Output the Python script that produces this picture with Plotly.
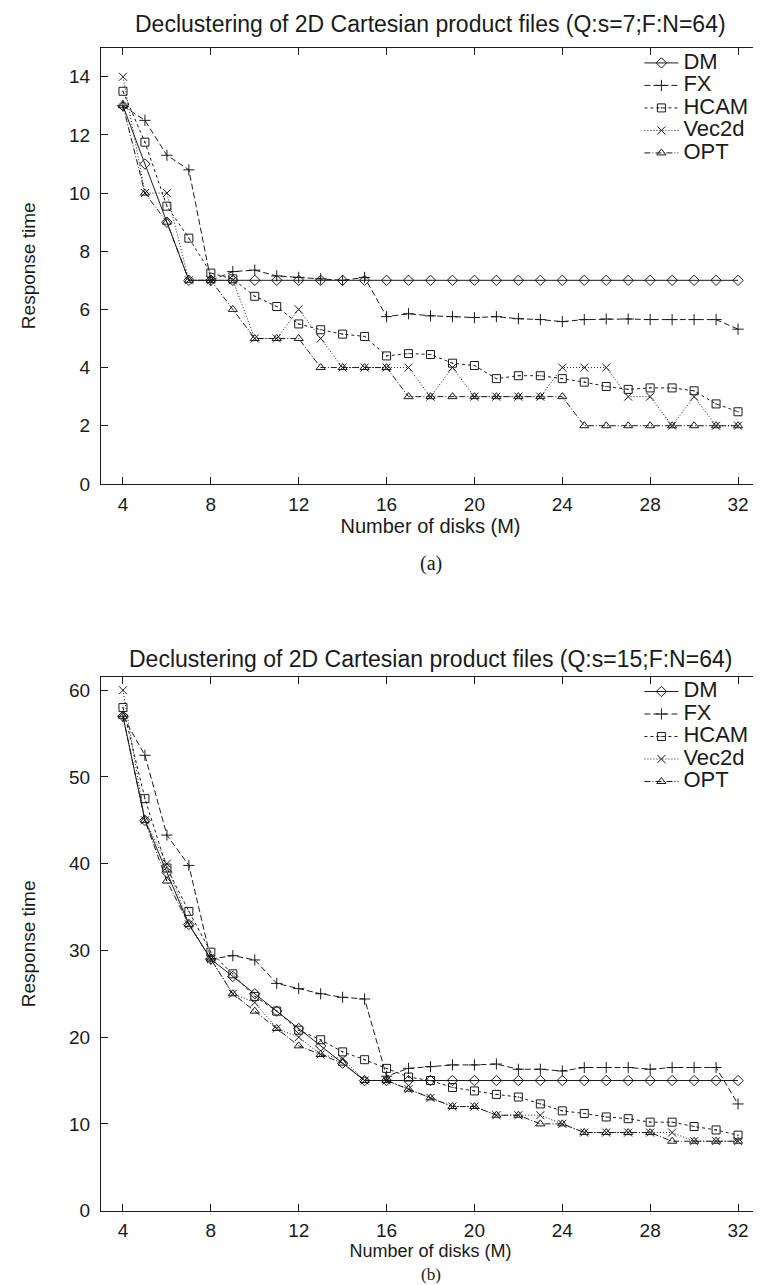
import plotly.graph_objects as go

disks = list(range(4, 33))
series_names = ["DM", "FX", "HCAM", "Vec2d", "OPT"]
x_ticks = [4, 8, 12, 16, 20, 24, 28, 32]
y_ticks_a = [0, 2, 4, 6, 8, 10, 12, 14]
y_ticks_b = [0, 10, 20, 30, 40, 50, 60]

# (a) Q:s=7
dm_a = [13, 11, 9, 7, 7, 7, 7, 7, 7, 7, 7, 7, 7, 7, 7, 7, 7, 7, 7, 7, 7, 7, 7, 7, 7, 7, 7, 7, 7]
fx_a = [13, 12.5, 11.3, 10.8, 7.0, 7.3, 7.35, 7.15, 7.1, 7.05, 7.0, 7.1, 5.75, 5.85, 5.78,
        5.75, 5.72, 5.75, 5.68, 5.65, 5.58, 5.65, 5.67, 5.67, 5.65, 5.65, 5.65, 5.65, 5.32]
hcam_a = [13.5, 11.75, 9.55, 8.45, 7.25, 7.05, 6.45, 6.1, 5.5, 5.3, 5.15, 5.07, 4.4, 4.48, 4.45,
          4.15, 4.07, 3.62, 3.72, 3.72, 3.62, 3.5, 3.35, 3.25, 3.3, 3.3, 3.2, 2.75, 2.48]
vec_a = [14, 10, 10, 7, 7, 7, 5, 5, 6, 5, 4, 4, 4, 4, 3, 4, 3, 3, 3, 3, 4, 4, 4, 3, 3, 2, 3, 2, 2]
opt_a = [13, 10, 9, 7, 7, 6, 5, 5, 5, 4, 4, 4, 4, 3, 3, 3, 3, 3, 3, 3, 3, 2, 2, 2, 2, 2, 2, 2, 2]

# (b) Q:s=15
dm_b = [57, 45, 39, 33, 29, 27, 25, 23, 21, 19, 17, 15, 15, 15, 15, 15, 15, 15, 15, 15, 15,
        15, 15, 15, 15, 15, 15, 15, 15]
fx_b = [57, 52.5, 43.3, 39.8, 29, 29.4, 28.9, 26.2, 25.6, 25, 24.6, 24.4, 15.5, 16.4, 16.6,
        16.8, 16.8, 16.9, 16.3, 16.3, 16.1, 16.5, 16.5, 16.5, 16.3, 16.5, 16.5, 16.5, 12.3]
hcam_b = [58, 47.5, 39.5, 34.5, 29.8, 27.3, 24.7, 23, 20.8, 19.7, 18.3, 17.4, 16.4, 15.4, 15,
          14.2, 13.8, 13.4, 13.1, 12.3, 11.5, 11.2, 10.8, 10.6, 10.2, 10.2, 9.7, 9.3, 8.7]
vec_b = [60, 45, 40, 33, 29, 25, 24, 21, 20, 18, 17.5, 15, 15, 14, 13, 12, 12, 11, 11, 11, 10,
         9, 9, 9, 9, 9, 8, 8, 8]
opt_b = [57, 45, 38, 33, 29, 25, 23, 21, 19, 18, 17, 15, 15, 14, 13, 12, 12, 11, 11, 10, 10,
         9, 9, 9, 9, 8, 8, 8, 8]

symbols = ["diamond-open", "cross-thin-open", "square-open-dot", "x-thin-open", "triangle-up-open"]
dashes = ["solid", "6px,3px", "3px,3px", "1px,2px", "6px,2px,1px,2px"]
ink = "#1a1a1a"
SANS = "Liberation Sans, Arial, sans-serif"
NARROW = "Liberation Sans Narrow, Liberation Sans, Arial, sans-serif"
SERIF = "Liberation Serif, Times New Roman, serif"


def legend_label(name):
    return '<span style="font-size:22px">' + name + '</span>'


fig = go.Figure()

for i, (name, ys) in enumerate(zip(series_names, [dm_a, fx_a, hcam_a, vec_a, opt_a])):
    fig.add_trace(go.Scatter(
        x=disks, y=ys, name=legend_label(name), mode="lines+markers",
        line=dict(color=ink, width=1, dash=dashes[i]),
        marker=dict(symbol=symbols[i], size=8, color=ink, line=dict(color=ink, width=1)),
        xaxis="x", yaxis="y", legend="legend"))

for i, (name, ys) in enumerate(zip(series_names, [dm_b, fx_b, hcam_b, vec_b, opt_b])):
    fig.add_trace(go.Scatter(
        x=disks, y=ys, name=legend_label(name), mode="lines+markers",
        line=dict(color=ink, width=1, dash=dashes[i]),
        marker=dict(symbol=symbols[i], size=8, color=ink, line=dict(color=ink, width=1)),
        xaxis="x2", yaxis="y2", legend="legend2"))

H = 1285.0
top_a, bot_a = 40, 480
top_b, bot_b = 675, 1213

axis_common = dict(showline=True, linecolor=ink, linewidth=1, mirror="ticks",
                   ticks="inside", ticklen=7, tickcolor=ink, tickwidth=1,
                   showgrid=False, zeroline=False,
                   tickfont=dict(family=SANS, size=19, color=ink))

legend_common = dict(xanchor="right", yanchor="top", bgcolor="rgba(0,0,0,0)",
                     font=dict(family=SANS, size=15, color=ink),
                     tracegroupgap=0, itemwidth=34)

fig.update_layout(
    width=761, height=1285,
    margin=dict(l=93, r=9, t=0, b=0),
    paper_bgcolor="white", plot_bgcolor="white",
    xaxis=dict(axis_common, range=[3, 33], tickvals=x_ticks, anchor="y",
               domain=[0, 1], ticklabelstandoff=3,
               title=dict(text="Number of disks (M)", standoff=2,
                          font=dict(family=NARROW, size=20, color=ink))),
    yaxis=dict(axis_common, range=[0, 15], tickvals=y_ticks_a, anchor="x",
               domain=[1 - bot_a / H, 1 - top_a / H], ticklabelstandoff=6,
               title=dict(text="Response time", standoff=28,
                          font=dict(family=NARROW, size=19, color=ink))),
    xaxis2=dict(axis_common, range=[3, 33], tickvals=x_ticks, anchor="y2",
                domain=[0, 1], ticklabelstandoff=3,
                title=dict(text="Number of disks (M)", standoff=0,
                           font=dict(family=NARROW, size=18, color=ink))),
    yaxis2=dict(axis_common, range=[0, 61.5], tickvals=y_ticks_b, anchor="x2",
                domain=[1 - bot_b / H, 1 - top_b / H], ticklabelstandoff=6,
                title=dict(text="Response time", standoff=28,
                           font=dict(family=NARROW, size=19, color=ink))),
    legend=dict(legend_common, x=0.99, y=1 - 39 / H),
    legend2=dict(legend_common, x=0.99, y=1 - 673 / H),
    showlegend=True,
)

fig.add_annotation(text="Declustering of 2D Cartesian product files (Q:s=7;F:N=64)",
                   xref="paper", yref="paper", x=0.5, y=1 - 16 / H, showarrow=False,
                   font=dict(family=SANS, size=23, color=ink), yanchor="middle")
fig.add_annotation(text="Declustering of 2D Cartesian product files (Q:s=15;F:N=64)",
                   xref="paper", yref="paper", x=0.5, y=1 - 657 / H, showarrow=False,
                   font=dict(family=SANS, size=23, color=ink), yanchor="middle")
fig.add_annotation(text="(a)", xref="paper", yref="paper", x=0.5, y=1 - 560 / H,
                   showarrow=False, yanchor="middle",
                   font=dict(family=SERIF, size=20, color=ink))
fig.add_annotation(text="(b)", xref="paper", yref="paper", x=0.5, y=1 - 1277 / H,
                   showarrow=False, yanchor="middle",
                   font=dict(family=SERIF, size=17, color=ink))

fig.write_html("out.html")
